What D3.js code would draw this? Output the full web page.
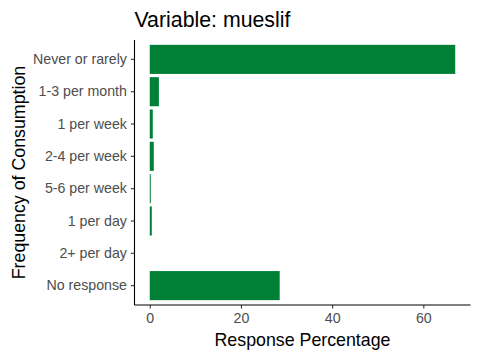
<!DOCTYPE html>
<html>
<head>
<meta charset="utf-8">
<script src="https://cdn.jsdelivr.net/npm/d3@7"></script>
<style>
  body { margin: 0; background: #fff; }
  text { font-family: Arial, "Liberation Sans", sans-serif; }
</style>
</head>
<body>
<svg id="chart" width="480" height="360"></svg>
<script>
// data
var categories = ["Never or rarely", "1-3 per month", "1 per week", "2-4 per week",
                  "5-6 per week", "1 per day", "2+ per day", "No response"];
var values = [67.0, 2.0, 0.66, 0.88, 0.22, 0.44, 0, 28.5];
var xTicks = [0, 20, 40, 60];

var svg = d3.select("#chart");
var panel = {left: 134.5, right: 470.5, top: 40, bottom: 305};

var xMax = d3.max(values);
var x = d3.scaleLinear()
    .domain([-0.05 * xMax, xMax * 1.05])
    .range([panel.left, panel.right]);

// ggplot style: 0.6 step expansion from the outer band centres
var y = d3.scaleBand()
    .domain(categories)
    .range([panel.top, panel.bottom])
    .paddingInner(0.1)
    .paddingOuter(0.15);

// bars
svg.append("g").selectAll("rect")
    .data(values)
    .enter().append("rect")
    .attr("x", x(0))
    .attr("y", function(d, i) { return y(categories[i]); })
    .attr("width", function(d) { return x(d) - x(0); })
    .attr("height", y.bandwidth())
    .attr("fill", "#008037");

// axes
var xAxis = svg.append("g")
    .attr("transform", "translate(0," + panel.bottom + ")")
    .call(d3.axisBottom(x).tickValues(xTicks).tickSize(3.6).tickPadding(4).tickSizeOuter(0));
var yAxis = svg.append("g")
    .attr("transform", "translate(" + panel.left + ",0)")
    .call(d3.axisLeft(y).tickSize(3.6).tickPadding(4).tickSizeOuter(0));

[xAxis, yAxis].forEach(function(a) {
  a.select(".domain").attr("stroke", "#000").attr("stroke-width", 1.1);
  a.selectAll(".tick line").attr("stroke", "#333").attr("stroke-width", 1.1);
  a.selectAll(".tick text").attr("fill", "#4d4d4d").style("font-size", "14.2px");
});
xAxis.select(".domain").attr("d", "M" + panel.left + ",0H" + panel.right);
yAxis.select(".domain").attr("d", "M0," + panel.top + "V" + panel.bottom);

// titles
svg.append("text")
    .attr("x", panel.left).attr("y", 27)
    .style("font-size", "21.3px").attr("fill", "#000")
    .text("Variable: mueslif");

svg.append("text")
    .attr("x", (panel.left + panel.right) / 2).attr("y", 346)
    .attr("text-anchor", "middle")
    .style("font-size", "17.8px").attr("fill", "#000")
    .text("Response Percentage");

svg.append("text")
    .attr("transform", "translate(25," + (panel.top + panel.bottom) / 2 + ") rotate(-90)")
    .attr("text-anchor", "middle")
    .style("font-size", "17.8px").attr("fill", "#000")
    .text("Frequency of Consumption");
</script>
</body>
</html>
